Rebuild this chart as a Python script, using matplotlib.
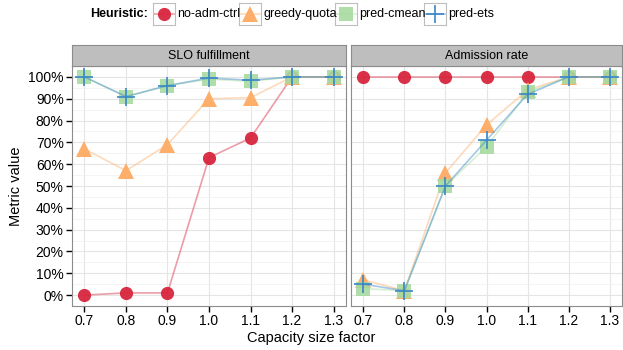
import numpy as np
import matplotlib.pyplot as plt
from matplotlib.ticker import FixedLocator, PercentFormatter

plt.rcParams['font.family'] = ['Liberation Sans', 'DejaVu Sans']

capacity = [0.7, 0.8, 0.9, 1.0, 1.1, 1.2, 1.3]
heuristics = ['no-adm-ctrl', 'greedy-quota', 'pred-cmean', 'pred-ets']
panels = ['SLO fulfillment', 'Admission rate']

# values in percent
slo_no_adm = [0, 1, 1, 63, 72, 100, 100]
slo_greedy = [67, 57, 69, 90, 90.5, 100, 100]
slo_cmean = [100, 91, 96, 99, 98, 100, 100]
slo_ets = [100, 91, 96, 99.5, 98.5, 100, 100]

adm_no_adm = [100, 100, 100, 100, 100, 100, 100]
adm_greedy = [7, 2, 56, 78, 94, 100, 100]
adm_cmean = [3, 2, 50, 68, 93, 100, 100]
adm_ets = [5, 2, 50, 71, 92, 100, 100]

data = {
    'SLO fulfillment': [slo_no_adm, slo_greedy, slo_cmean, slo_ets],
    'Admission rate': [adm_no_adm, adm_greedy, adm_cmean, adm_ets],
}

colors = ['#D7263D', '#FDAE6B', '#A6DBA0', '#3A86C8']
markers = ['o', '^', 's', '+']
msizes = [9.5, 11.5, 9.5, 13]
malpha = [0.95, 1.0, 0.9, 1.0]

W, H = 623, 350
fig = plt.figure(figsize=(W / 100, H / 100), dpi=100)

def px(x0, y0, x1, y1):
    return [x0 / W, 1 - y1 / H, (x1 - x0) / W, (y1 - y0) / H]

panel_px = [(72, 346), (351, 622)]
top, bottom, strip_top = 66, 306, 45

for k, name in enumerate(panels):
    x0, x1 = panel_px[k]
    ax = fig.add_axes(px(x0, top, x1, bottom))
    for i, h in enumerate(heuristics):
        y = np.array(data[name][i]) / 100
        ax.plot(capacity, y, color=colors[i], lw=1.2, alpha=0.45, zorder=2 + i)
        ax.plot(capacity, y, ls='none', marker=markers[i], ms=msizes[i],
                color=colors[i], mew=1.2 if markers[i] == '+' else 0,
                alpha=malpha[i], zorder=3 + i)
    ax.set_xlim(0.67, 1.33)
    ax.set_ylim(-0.05, 1.05)
    ax.xaxis.set_major_locator(FixedLocator(capacity))
    ax.set_xticklabels([f'{c:.1f}' for c in capacity])
    ax.yaxis.set_major_locator(FixedLocator(np.arange(0, 1.01, 0.1)))
    ax.yaxis.set_minor_locator(FixedLocator(np.arange(0.05, 1.0, 0.1)))
    ax.yaxis.set_major_formatter(PercentFormatter(1.0, decimals=0))
    ax.grid(True, which='major', color='#E5E5E5', lw=0.8)
    ax.grid(True, which='minor', axis='y', color='#F2F2F2', lw=0.6)
    ax.set_axisbelow(True)
    for s in ax.spines.values():
        s.set_color('#8C8C8C')
        s.set_linewidth(0.8)
    ax.tick_params(which='major', length=4, width=1, color='black',
                   labelsize=10, labelcolor='black', pad=2)
    ax.tick_params(which='minor', length=0)
    if k == 1:
        ax.tick_params(axis='y', left=False, labelleft=False)

    sax = fig.add_axes(px(x0, strip_top, x1, top))
    sax.set_facecolor('#BEBEBE')
    sax.set_xticks([])
    sax.set_yticks([])
    for s in sax.spines.values():
        s.set_color('#8C8C8C')
        s.set_linewidth(0.8)
    sax.text(0.5, 0.48, name, ha='center', va='center', fontsize=9,
             transform=sax.transAxes)

fig.text(311 / W, 1 - 338 / H, 'Capacity size factor', ha='center',
         va='center', fontsize=10.5)
fig.text(16 / W, 1 - 186 / H, 'Metric value', ha='center', va='center',
         fontsize=10.5, rotation=90)

# legend drawn by hand to get the boxed keys
fig.text(148 / W, 1 - 14 / H, 'Heuristic:', ha='right', va='center',
         fontsize=9, fontweight='bold')
key_x = [153, 239, 335, 424]
for i, h in enumerate(heuristics):
    kx = key_x[i]
    kax = fig.add_axes(px(kx, 3, kx + 22, 25))
    kax.set_xlim(0, 1)
    kax.set_ylim(0, 1)
    kax.plot([0.05, 0.95], [0.5, 0.5], color=colors[i], lw=1.2, alpha=0.45)
    kax.plot([0.5], [0.5], ls='none', marker=markers[i], ms=msizes[i],
             color=colors[i], mew=1.2 if markers[i] == '+' else 0,
             alpha=malpha[i])
    kax.set_xticks([])
    kax.set_yticks([])
    for s in kax.spines.values():
        s.set_color('#BEBEBE')
        s.set_linewidth(0.8)
    fig.text((kx + 24) / W, 1 - 14 / H, h, ha='left', va='center', fontsize=9)

fig.savefig('out.png', dpi=100)
